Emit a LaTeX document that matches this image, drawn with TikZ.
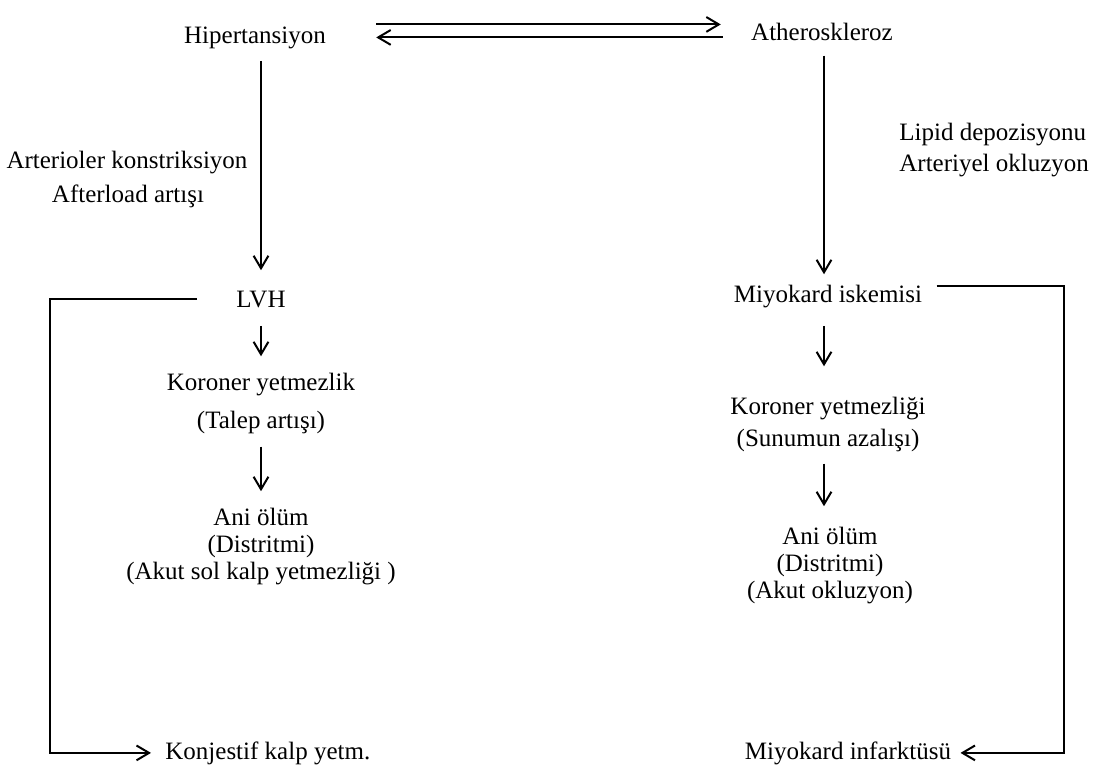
\documentclass[tikz,border=0pt]{standalone}
\usepackage{fontspec}
\setmainfont{Liberation Serif}
\usetikzlibrary{arrows.meta,positioning,calc}
\tikzset{
  lbl/.style ={font=\fontsize{12.5}{13.5}\selectfont, inner sep=1pt, align=center},
  one/.style ={lbl, anchor=base},
  arr/.style ={-{Straight Barb[length=2.2mm,width=2.6mm]}, line width=1pt},
}

\begin{document}
\begin{tikzpicture}[x=0.5pt,y=-0.5pt]
  \useasboundingbox (0,0) rectangle (1097,776);

  % top row
  \node[one] (hip) at (255,43) {Hipertansiyon};
  \node[one] (ath) at (822,40) {Atheroskleroz};

  % side labels
  \node[one] (ark) at (127,168) {Arterioler konstriksiyon};
  \node[one] (aft) at (128,202) {Afterload artışı};
  \node[one,anchor=base west] (lip) at (897,140) {Lipid depozisyonu};
  \node[one,anchor=base west] (aok) at (897,171) {Arteriyel okluzyon};

  % left column
  \node[one] (lvh)  at (261,307) {LVH};
  \node[lbl] (korL) at (261,403) {Koroner yetmezlik\\[5.5pt](Talep artışı)};
  \node[lbl] (aniL) at (261,547) {Ani ölüm\\(Distritmi)\\(Akut sol kalp yetmezliği )};
  \node[one,anchor=base west] (konj) at (163,759) {Konjestif kalp yetm.};
  \coordinate (lc) at (50,0);

  % right column
  \coordinate (rx) at (824,0);
  \node[one] (isk)  at (828,302) {Miyokard iskemisi};
  \node[lbl] (korR) at (828,424) {Koroner yetmezliği\\[2.5pt](Sunumun azalışı)};
  \node[lbl] (aniR) at (830,566) {Ani ölüm\\(Distritmi)\\(Akut okluzyon)};
  \node[one] (inf)  at (848,759) {Miyokard infarktüsü};
  \coordinate (rc) at (1064,0);

  \draw[arr] ($(hip.east)+(24pt,6.5pt)$) -- ($(hip.east -| ath.west)+(-14pt,6.5pt)$);
  \draw[arr] ($(hip.east -| ath.west)+(-13pt,0pt)$) -- ($(hip.east)+(24pt,0pt)$);

  \draw[arr,shorten <=5pt,shorten >=9pt] (lvh |- hip.south) -- (lvh.north);
  \draw[arr,shorten <=6.5pt,shorten >=4pt] (ath.south -| rx) -- (isk.north -| rx);

  \draw[arr,shorten <=8pt,shorten >=7pt] (lvh.south) -- (korL.north);
  \draw[arr,shorten <=5.5pt,shorten >=7.5pt] (korL.south) -- (aniL.north);
  \draw[arr,shorten <=8pt,shorten >=14pt] (isk.south -| rx) -- (korR.north -| rx);
  \draw[arr,shorten <=5pt,shorten >=9.5pt] (korR.south -| rx) -- (aniR.north -| rx);

  \draw[arr] ([xshift=-18.5pt]lvh.west) -- (lvh.west -| lc) |- ([xshift=-6pt]konj.west);
  \draw[arr] ([shift={(6pt,5pt)}]isk.east) -- ([yshift=5pt]isk.east -| rc) |- ([xshift=3.5pt]inf.east);
\end{tikzpicture}
\end{document}
